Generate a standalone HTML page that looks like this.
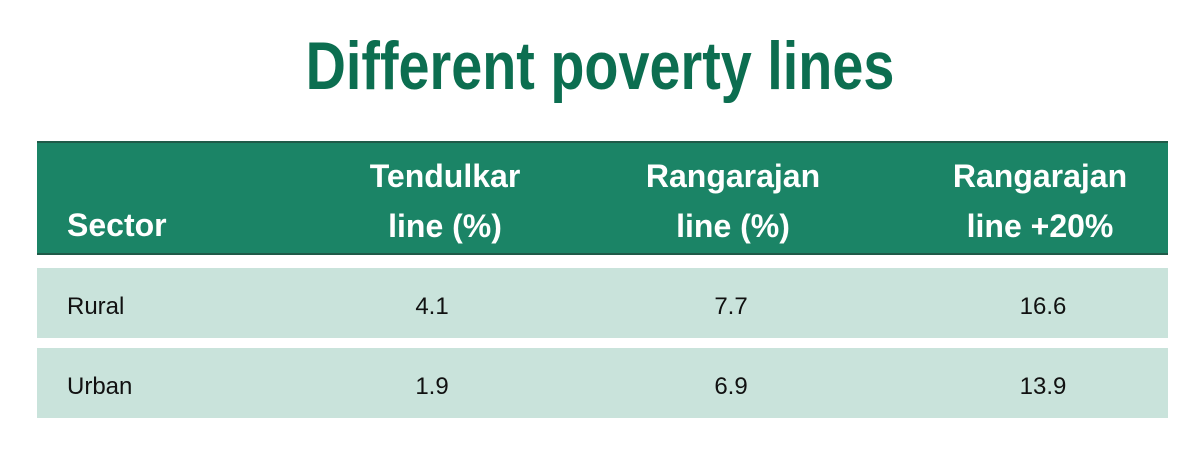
<!DOCTYPE html>
<html><head><meta charset="utf-8"><style>
body{margin:0;width:1200px;height:450px;background:#fff;font-family:"Liberation Sans",sans-serif;position:relative;overflow:hidden}
.t{position:absolute;left:0;width:1200px;top:26px;text-align:center;color:#0c6e50;font-weight:bold;font-size:68px;line-height:80px}
.t span{display:inline-block;transform:scaleX(0.82);transform-origin:center}
.hdr{position:absolute;left:37px;top:141px;width:1131px;height:114px;background:#1b8466;border-top:2px solid #1f5a48;border-bottom:2px solid #1f5a48;box-sizing:border-box}
.row{position:absolute;left:37px;width:1131px;height:70px;background:#c9e3db}
.c{position:absolute;color:#fff;font-weight:bold;font-size:32px;line-height:50px;text-align:center;width:260px}
.v{position:absolute;font-size:24px;color:#111;line-height:70px;text-align:center;width:200px;top:4px}
</style></head><body>
<div class="t"><span>Different poverty lines</span></div>
<div class="hdr">
<div class="c" style="left:30px;width:auto;text-align:left;top:57px">Sector</div>
<div class="c" style="left:278px;top:8px">Tendulkar<br>line (%)</div>
<div class="c" style="left:566px;top:8px">Rangarajan<br>line (%)</div>
<div class="c" style="left:873px;top:8px">Rangarajan<br>line +20%</div>
</div>
<div class="row" style="top:268px">
<div class="v" style="left:30px;text-align:left">Rural</div>
<div class="v" style="left:295px">4.1</div>
<div class="v" style="left:594px">7.7</div>
<div class="v" style="left:906px">16.6</div>
</div>
<div class="row" style="top:348px">
<div class="v" style="left:30px;text-align:left">Urban</div>
<div class="v" style="left:295px">1.9</div>
<div class="v" style="left:594px">6.9</div>
<div class="v" style="left:906px">13.9</div>
</div>
</body></html>
